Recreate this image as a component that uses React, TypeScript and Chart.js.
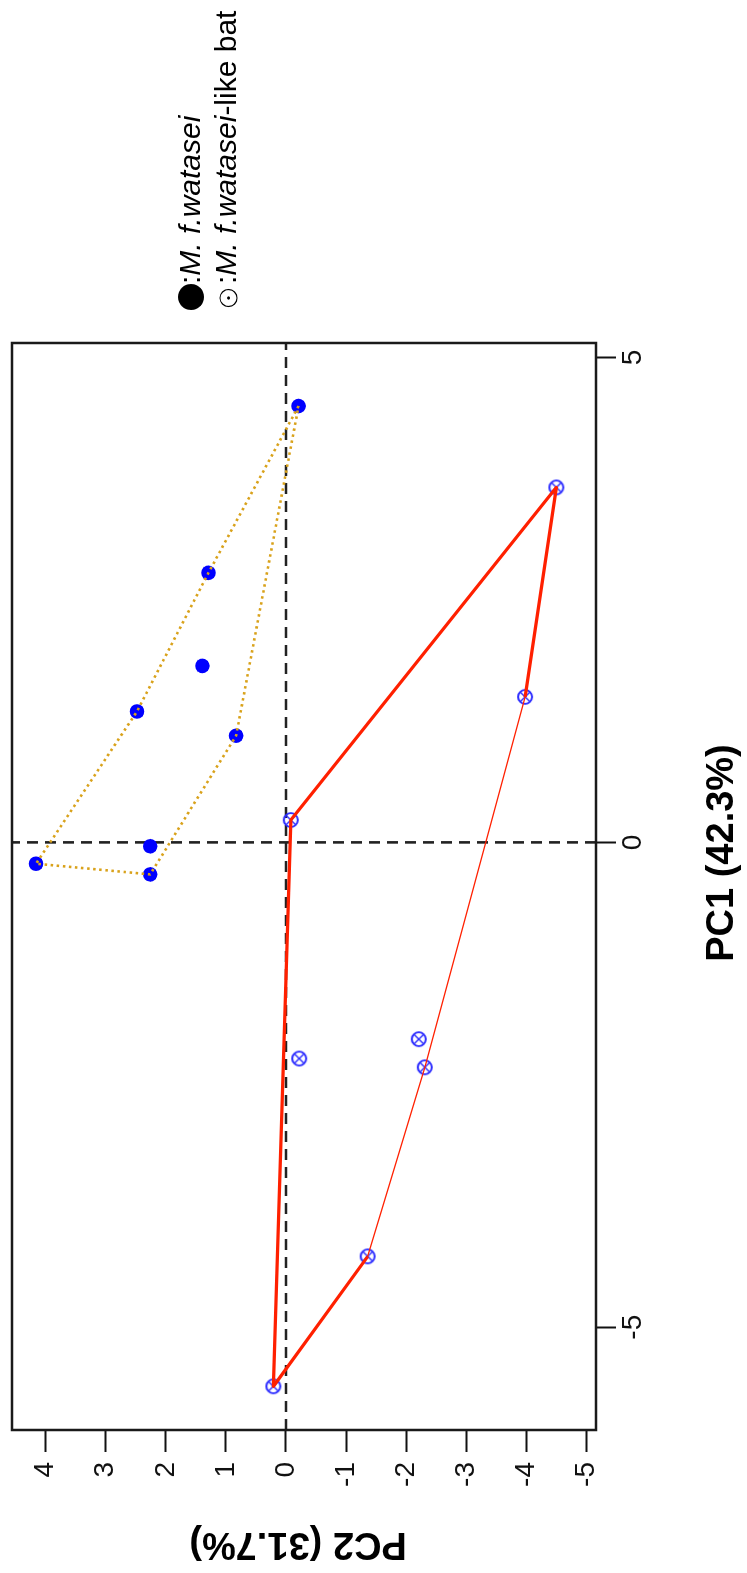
import React, { useEffect, useRef } from "react";
import { Chart, registerables } from "chart.js";

Chart.register(...registerables);

// Unrotated (original) canvas size; the page shows it rotated 90° counter-clockwise.
const W = 1573;
const H = 747;

// M. f. watasei (filled markers)
const watPC1 = [4.5, 2.78, 1.82, 1.35, 1.1, -0.04, -0.33, -0.22];
const watPC2 = [-0.21, 1.29, 1.39, 2.48, 0.83, 2.26, 2.26, 4.16];

// M. f. watasei-like bat (crossed circle markers)
const likePC1 = [0.23, 3.66, 1.5, -2.23, -2.03, -2.32, -4.27, -5.61];
const likePC2 = [-0.08, -4.5, -3.98, -0.22, -2.21, -2.31, -1.36, 0.21];

// polygon outlines (indices into the arrays above)
const watHull = [0, 1, 3, 7, 6, 4, 0];
const likeHullThick = [6, 7, 0, 1, 2];
const likeHullThin = [2, 5, 6];

// axes
const PC1_TICKS = [-5, 0, 5];
const PC2_TICKS = [-5, -4, -3, -2, -1, 0, 1, 2, 3, 4];
const PC1_RANGE = [-6.06, 5.15];
const PC2_RANGE = [-5.16, 4.56];

const X_TITLE = "PC1 (42.3%)";
const Y_TITLE = "PC2 (31.7%)";
const LEGEND_NAME = "M. f.watasei";
const LEGEND_SUFFIX = "-like bat";

const FONT = '"Liberation Sans", Arial, Helvetica, sans-serif';

function pts(px: number[], py: number[], idx?: number[]) {
  const ids = idx ?? px.map((_, i) => i);
  return ids.map((i) => ({ x: px[i], y: py[i] }));
}

function crossedCircle(): HTMLCanvasElement {
  const c = document.createElement("canvas");
  c.width = 20;
  c.height = 20;
  const g = c.getContext("2d")!;
  const r = 7;
  g.strokeStyle = "#2b2bff";
  g.lineWidth = 1.8;
  g.beginPath();
  g.arc(10, 10, r, 0, Math.PI * 2);
  g.stroke();
  const d = r * Math.SQRT1_2;
  g.lineWidth = 1.4;
  g.beginPath();
  g.moveTo(10 - d, 10 - d);
  g.lineTo(10 + d, 10 + d);
  g.moveTo(10 + d, 10 - d);
  g.lineTo(10 - d, 10 + d);
  g.stroke();
  return c;
}

const decorPlugin = {
  id: "decor",
  afterDraw(chart: any) {
    const { ctx, chartArea } = chart;
    const { left, right, top, bottom } = chartArea;
    ctx.save();
    // plot box
    ctx.strokeStyle = "#1a1a1a";
    ctx.lineWidth = 2.5;
    ctx.strokeRect(left, top, right - left, bottom - top);

    // axis titles
    ctx.fillStyle = "#000";
    ctx.font = `bold 38px ${FONT}`;
    ctx.textAlign = "center";
    ctx.textBaseline = "middle";
    ctx.fillText(X_TITLE, 720, 723);
    ctx.save();
    ctx.translate(30, 298);
    ctx.rotate(-Math.PI / 2);
    ctx.fillText(Y_TITLE, 0, 0);
    ctx.restore();

    // legend
    ctx.fillStyle = "#000";
    ctx.beginPath();
    ctx.arc(1276, 191, 13, 0, Math.PI * 2);
    ctx.fill();
    ctx.strokeStyle = "#000";
    ctx.lineWidth = 1.2;
    ctx.beginPath();
    ctx.arc(1275, 228.5, 8.5, 0, Math.PI * 2);
    ctx.stroke();
    ctx.beginPath();
    ctx.arc(1275, 228.5, 1.6, 0, Math.PI * 2);
    ctx.fill();

    ctx.textAlign = "left";
    ctx.textBaseline = "alphabetic";
    const reg = `30px ${FONT}`;
    const ita = `italic 30px ${FONT}`;
    const line = (y: number, withSuffix: boolean) => {
      let x = 1289;
      ctx.font = reg;
      ctx.fillText(":", x, y);
      x += ctx.measureText(":").width;
      ctx.font = ita;
      ctx.fillText(LEGEND_NAME, x, y);
      x += ctx.measureText(LEGEND_NAME).width;
      if (withSuffix) {
        ctx.font = reg;
        ctx.fillText(LEGEND_SUFFIX, x, y);
      }
    };
    line(200, false);
    line(235.5, true);
    ctx.restore();
  },
};

export default function App() {
  const ref = useRef<HTMLCanvasElement | null>(null);

  useEffect(() => {
    document.documentElement.style.overflow = "hidden";
    document.body.style.overflow = "hidden";
    const canvas = ref.current;
    if (!canvas) return;
    const marker = crossedCircle();

    const chart = new Chart(canvas, {
      type: "scatter",
      data: {
        datasets: [
          {
            label: "M. f. watasei hull",
            data: pts(watPC1, watPC2, watHull),
            showLine: true,
            borderColor: "#d9a21b",
            borderWidth: 2.6,
            borderDash: [2.5, 3.6],
            pointRadius: 0,
            fill: false,
            order: 1,
          },
          {
            label: "like bat hull",
            data: pts(likePC1, likePC2, likeHullThick),
            showLine: true,
            borderColor: "#ff2000",
            borderWidth: 3.2,
            borderJoinStyle: "round",
            pointRadius: 0,
            fill: false,
            order: 1,
          },
          {
            label: "like bat hull thin",
            data: pts(likePC1, likePC2, likeHullThin),
            showLine: true,
            borderColor: "#ff2000",
            borderWidth: 1.3,
            pointRadius: 0,
            fill: false,
            order: 1,
          },
          {
            label: "M. f. watasei",
            data: pts(watPC1, watPC2),
            pointStyle: "circle",
            pointRadius: 7.3,
            pointBackgroundColor: "#0000ff",
            pointBorderColor: "#0000ff",
            pointBorderWidth: 0,
            order: 2,
          },
          {
            label: "M. f. watasei-like bat",
            data: pts(likePC1, likePC2),
            pointStyle: marker as any,
            pointRadius: 7,
            order: 2,
          },
          {
            label: "PC1 = 0",
            data: [
              { x: 0, y: PC2_RANGE[0] },
              { x: 0, y: PC2_RANGE[1] },
            ],
            showLine: true,
            borderColor: "#222",
            borderWidth: 2.6,
            borderDash: [11, 7],
            pointRadius: 0,
            order: 3,
          },
          {
            label: "PC2 = 0",
            data: [
              { x: PC1_RANGE[0], y: 0 },
              { x: PC1_RANGE[1], y: 0 },
            ],
            showLine: true,
            borderColor: "#222",
            borderWidth: 2.6,
            borderDash: [11, 7],
            pointRadius: 0,
            order: 3,
          },
        ],
      },
      options: {
        responsive: false,
        animation: false,
        devicePixelRatio: 1,
        events: [],
        layout: { padding: { left: 0, top: 12, right: W - 1230, bottom: 0 } },
        plugins: {
          legend: { display: false },
          tooltip: { enabled: false },
          title: { display: false },
        },
        scales: {
          x: {
            type: "linear",
            min: PC1_RANGE[0],
            max: PC1_RANGE[1],
            afterBuildTicks: (s: any) => {
              s.ticks = PC1_TICKS.map((v) => ({ value: v }));
            },
            afterFit: (s: any) => {
              s.height = H - 596;
              s.paddingLeft = 0;
              s.paddingRight = 0;
            },
            border: { display: false },
            grid: {
              display: true,
              drawOnChartArea: false,
              drawTicks: true,
              tickLength: 20,
              tickColor: "#111",
              tickWidth: 2,
              color: "#111",
            },
            ticks: {
              autoSkip: false,
              maxRotation: 0,
              minRotation: 0,
              padding: 0,
              color: "#111",
              font: { family: FONT, size: 28, lineHeight: 1.2 },
              callback: (v: any) => String(v),
            },
          },
          y: {
            type: "linear",
            min: PC2_RANGE[0],
            max: PC2_RANGE[1],
            afterBuildTicks: (s: any) => {
              s.ticks = PC2_TICKS.map((v) => ({ value: v }));
            },
            afterFit: (s: any) => {
              s.width = 143;
              s.paddingTop = 0;
              s.paddingBottom = 0;
            },
            border: { display: false },
            grid: {
              display: true,
              drawOnChartArea: false,
              drawTicks: true,
              tickLength: 22,
              tickColor: "#111",
              tickWidth: 2,
              color: "#111",
            },
            ticks: {
              autoSkip: false,
              padding: 10,
              color: "#111",
              font: { family: FONT, size: 28, lineHeight: 1.2 },
              callback: (v: any) => String(v),
            },
          },
        },
      },
      plugins: [decorPlugin],
    } as any);

    return () => chart.destroy();
  }, []);

  return (
    <div
      style={{
        position: "absolute",
        left: 0,
        top: 0,
        width: W,
        height: H,
        background: "#fff",
        transformOrigin: "0 0",
        transform: `translateY(${W}px) rotate(-90deg)`,
      }}
    >
      <canvas
        ref={ref}
        width={W}
        height={H}
        style={{ display: "block", width: W, height: H }}
      />
    </div>
  );
}
